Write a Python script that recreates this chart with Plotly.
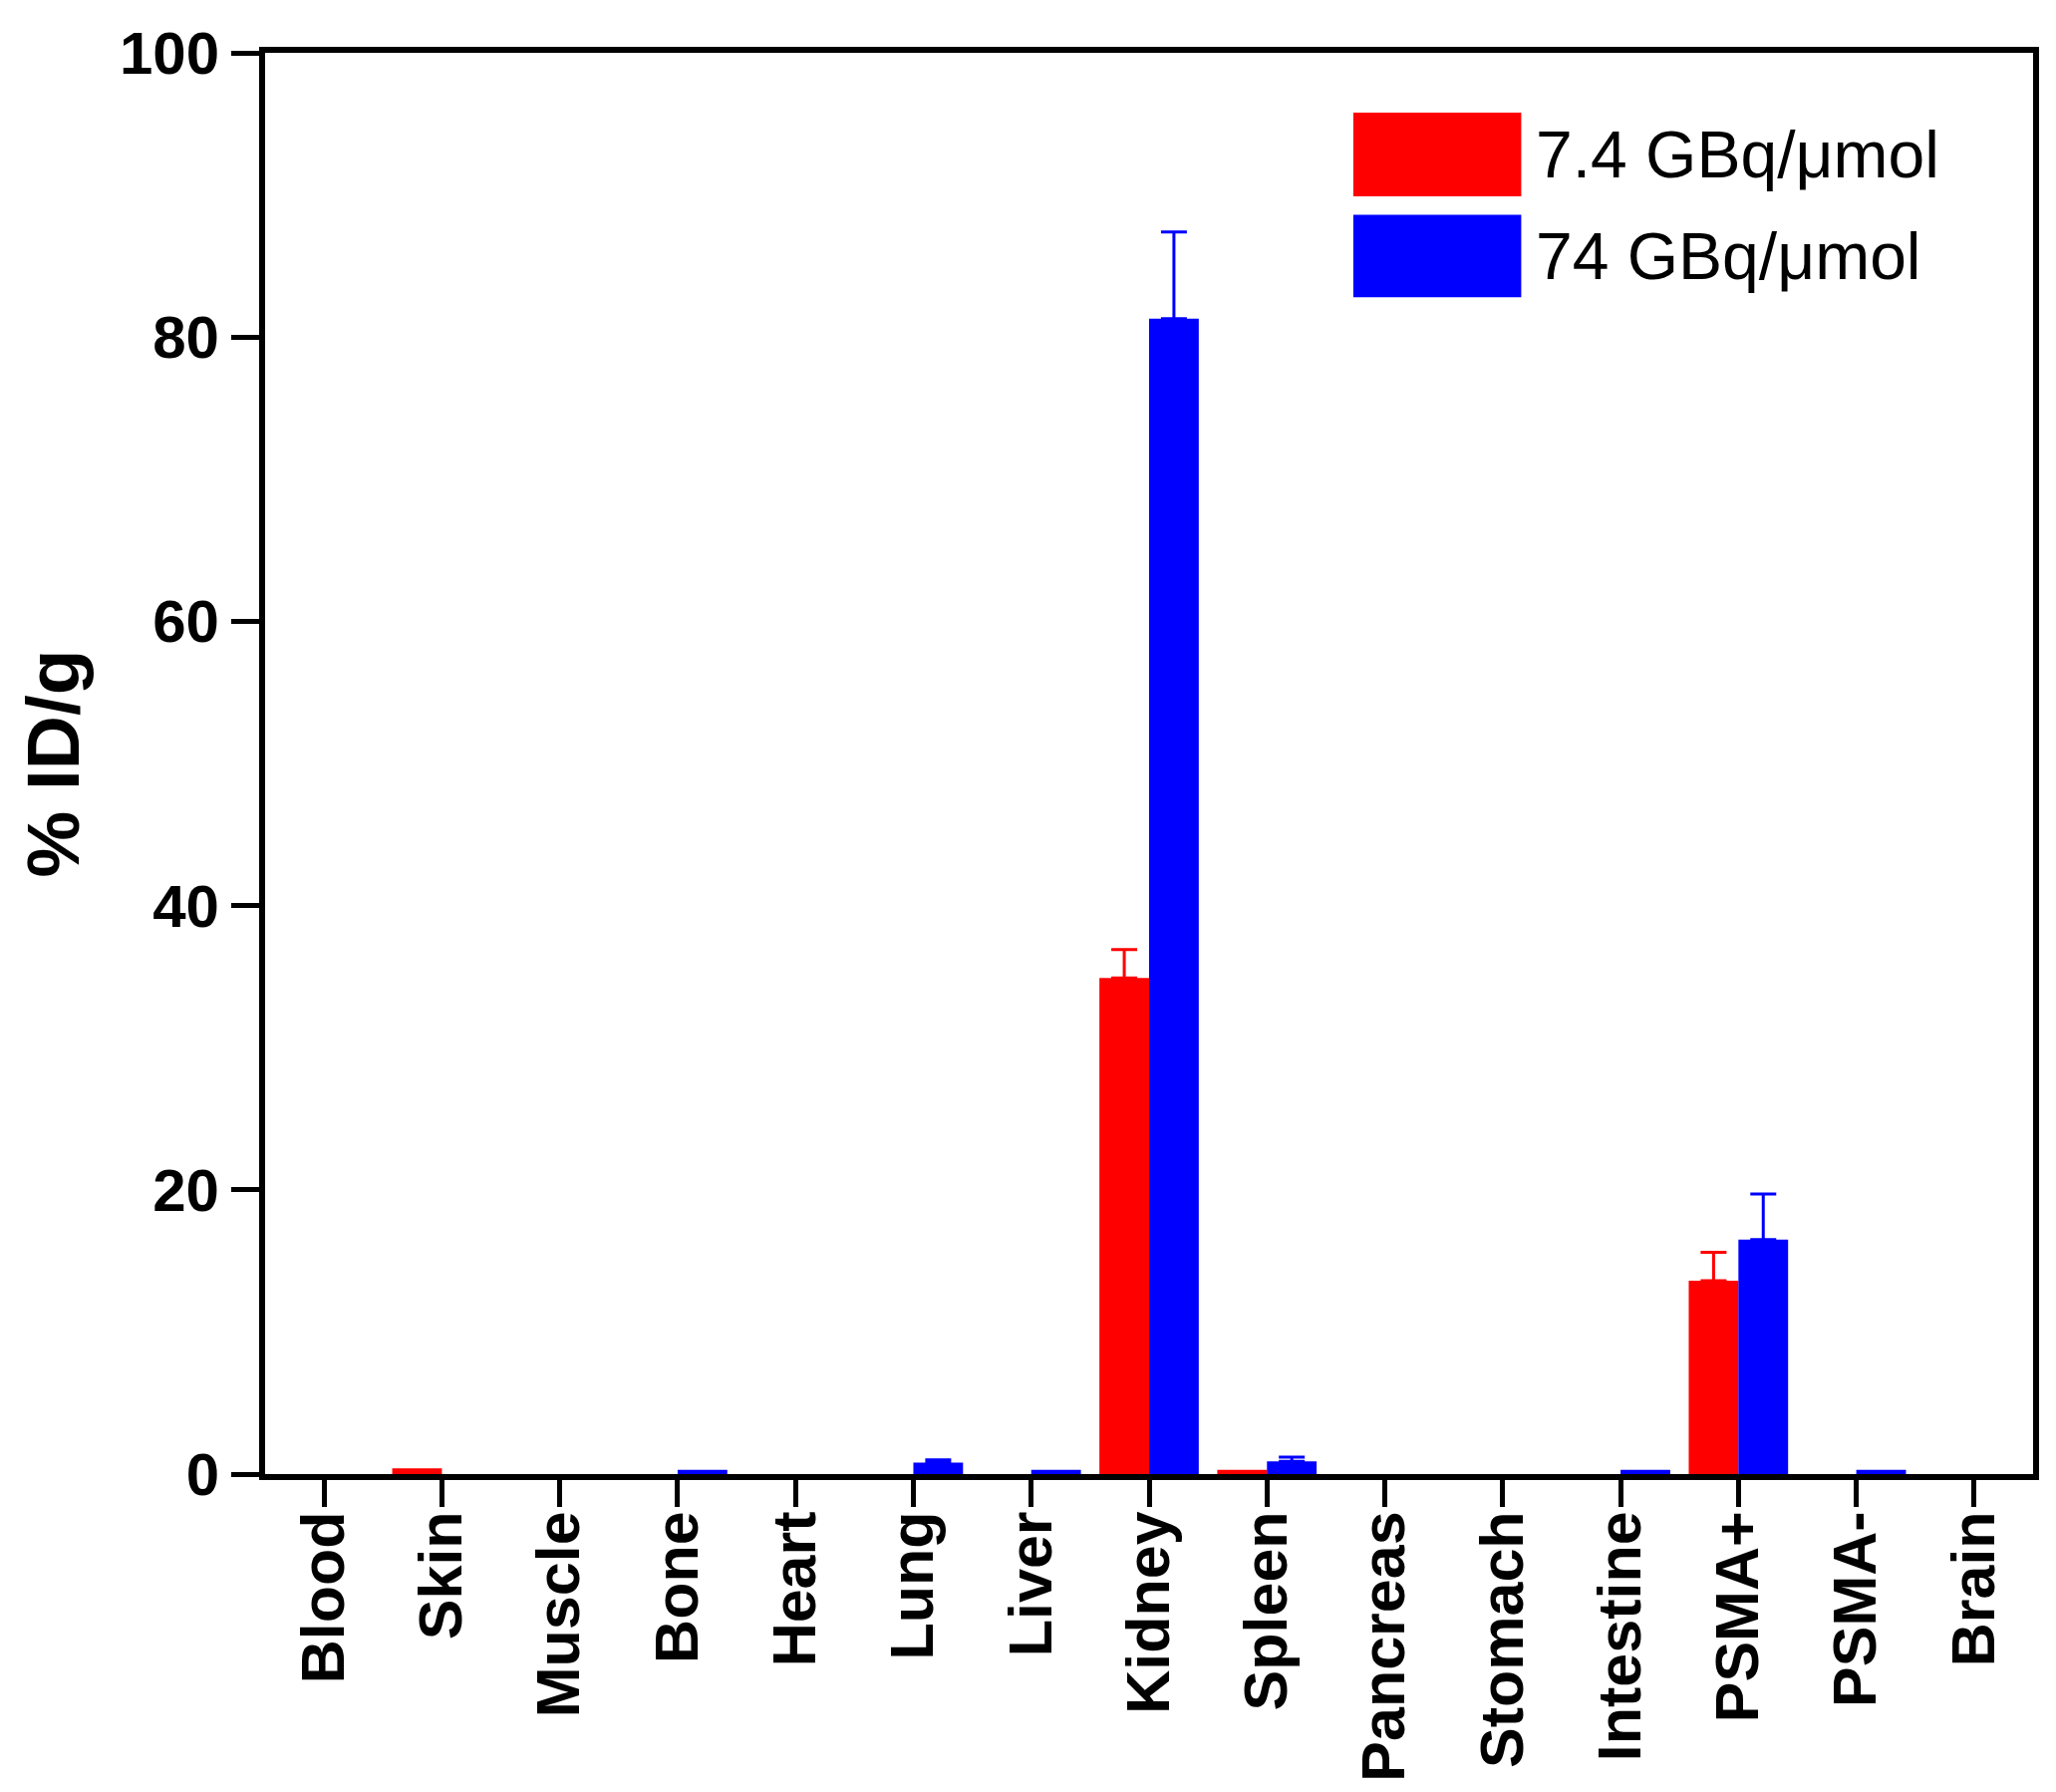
import plotly.graph_objects as go

organs = ["Blood", "Skin", "Muscle", "Bone", "Heart", "Lung", "Liver", "Kidney",
          "Spleen", "Pancreas", "Stomach", "Intestine", "PSMA+", "PSMA-", "Brain"]

low_name = "7.4 GBq/μmol"
low_mean = [0, 0.4, 0, 0, 0, 0, 0, 34.9, 0.3, 0, 0, 0, 13.6, 0, 0]
low_err = [0, 0, 0, 0, 0, 0, 0, 2.0, 0, 0, 0, 0, 2.0, 0, 0]

high_name = "74 GBq/μmol"
high_mean = [0, 0, 0, 0.3, 0, 0.8, 0.3, 81.3, 0.9, 0, 0, 0.3, 16.5, 0.3, 0]
high_err = [0, 0, 0, 0, 0, 0.2, 0, 6.1, 0.3, 0, 0, 0, 3.2, 0, 0]

y_ticks = [0, 20, 40, 60, 80, 100]

FONT = "Arial, Liberation Sans, sans-serif"
RED = "#ff0000"
BLUE = "#0000ff"

fig = go.Figure()
for name, mean, err, color, group in [(low_name, low_mean, low_err, RED, "low"),
                                      (high_name, high_mean, high_err, BLUE, "high")]:
    fig.add_bar(x=organs, y=mean, name=name, offsetgroup=group,
                marker=dict(color=color, line=dict(width=0)))
    # upper error bars only, and only where there is one (plotly would draw
    # zero-size caps on every bar otherwise)
    idx = [i for i, e in enumerate(err) if e > 0]
    fig.add_bar(
        x=[organs[i] for i in idx], y=[mean[i] for i in idx], offsetgroup=group,
        marker=dict(color="rgba(0,0,0,0)", line=dict(width=0)), showlegend=False,
        hoverinfo="skip",
        error_y=dict(type="data", array=[err[i] for i in idx], arrayminus=[0] * len(idx),
                     symmetric=False, color=color, thickness=3, width=13),
    )

# big legend swatches like the original (plotly's own legend swatch is tiny)
swatches = [(RED, low_name, 0.899, 0.958), (BLUE, high_name, 0.828, 0.886)]
for color, label, y0, y1 in swatches:
    fig.add_shape(type="rect", xref="paper", yref="paper", x0=0.6155, x1=0.7105,
                  y0=y0, y1=y1, fillcolor=color, line=dict(width=0))
    fig.add_annotation(xref="paper", yref="paper", x=0.7175, y=(y0 + y1) / 2,
                       text=label, showarrow=False, xanchor="left", yanchor="middle",
                       font=dict(family=FONT, size=66, color="black"))

axis_common = dict(showline=True, linecolor="black", linewidth=6, mirror=True,
                   ticks="outside", tickcolor="black", tickwidth=5, showgrid=False,
                   zeroline=False)

fig.update_xaxes(
    **axis_common, ticklen=27, tickangle=-90, ticklabelstandoff=-20,
    tickfont=dict(family=FONT, size=61, color="black", weight="bold"),
)
fig.update_yaxes(
    **axis_common, ticklen=28, range=[0, 100], tickvals=y_ticks,
    tickfont=dict(family=FONT, size=60, color="black", weight="bold"),
    title=dict(text="% ID/g", standoff=18,
               font=dict(family=FONT, size=75, color="black", weight="bold")),
)

fig.update_layout(
    width=2063, height=1798,
    margin=dict(l=258, r=31, t=34, b=327),
    barmode="group", bargap=0.157, bargroupgap=0,
    plot_bgcolor="white", paper_bgcolor="white",
    showlegend=False,
)

fig.write_html("out.html")
